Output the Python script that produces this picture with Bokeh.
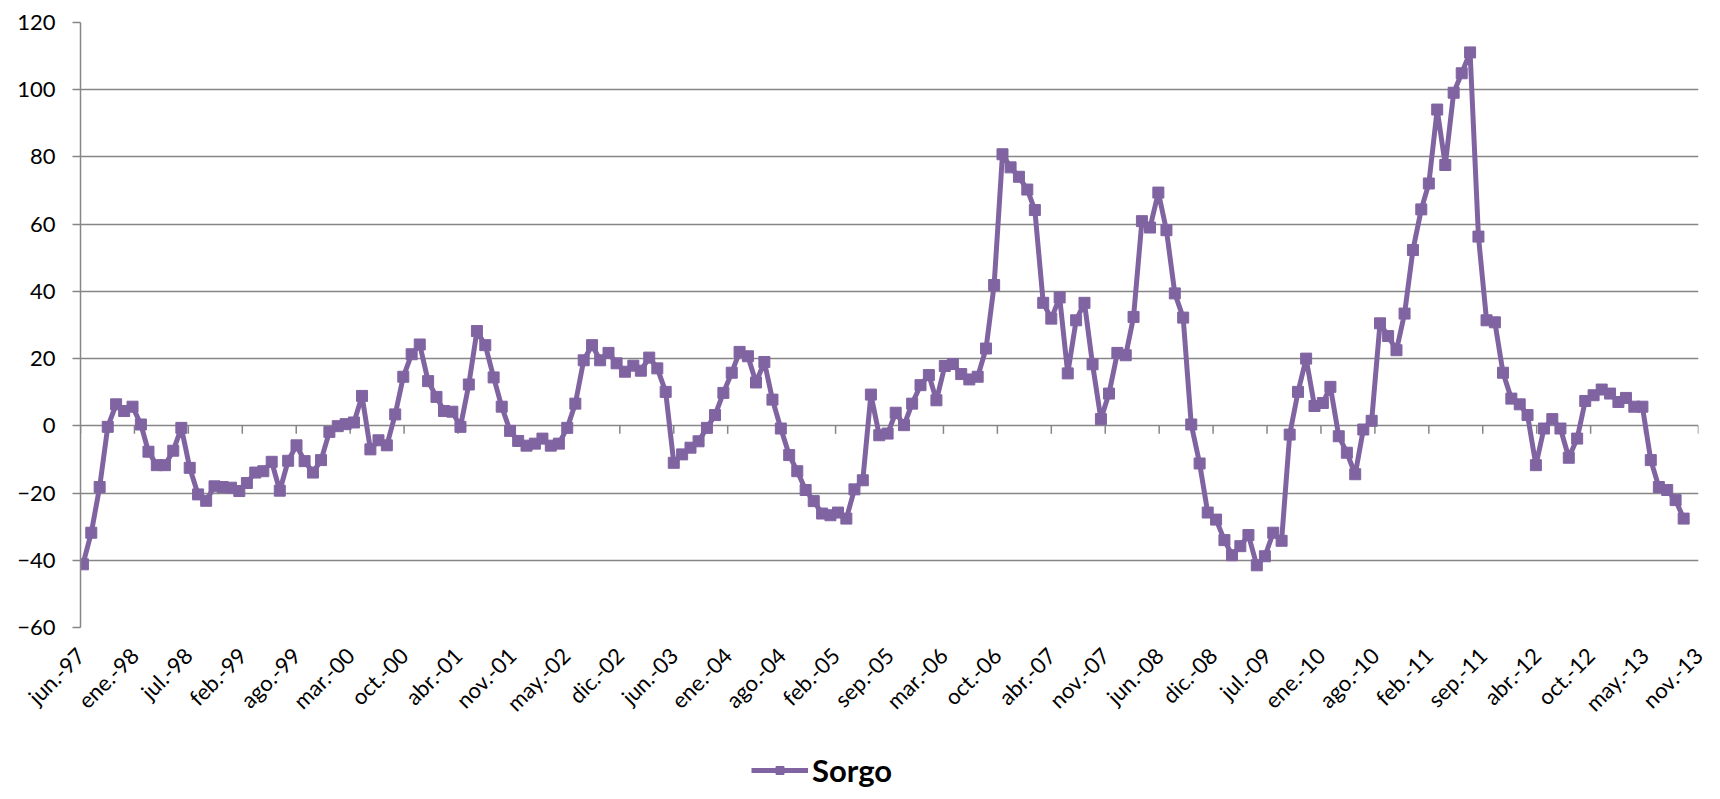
import numpy as np
import pandas as pd
from bokeh.plotting import figure
from bokeh.layouts import column
from bokeh.models import FixedTicker, Legend, LegendItem, Range1d
from bokeh.embed import file_html
from bokeh.resources import INLINE

# Monthly values, jun-97 .. sep-13
values = [
    -41.2, -31.8, -18.2, -0.3, 6.4, 4.4, 5.7, 0.4, -7.7, -11.7,
    -11.7, -7.4, -0.6, -12.5, -20.4, -22.3, -18.0, -18.2, -18.4, -19.4,
    -17.0, -13.9, -13.5, -10.7, -19.3, -10.4, -5.8, -10.5, -13.9, -10.2,
    -1.8, -0.1, 0.5, 1.0, 8.9, -7.0, -4.3, -5.8, 3.4, 14.6,
    21.3, 24.2, 13.3, 8.6, 4.4, 4.2, -0.3, 12.3, 28.2, 24.0,
    14.4, 5.7, -1.5, -4.5, -5.9, -5.3, -3.8, -5.9, -5.3, -0.6,
    6.6, 19.5, 24.0, 19.5, 21.7, 18.6, 16.1, 17.9, 16.4, 20.3,
    17.1, 10.1, -11.0, -8.5, -6.5, -4.6, -0.6, 3.2, 9.8, 15.8,
    22.0, 20.7, 12.9, 19.0, 7.8, -0.8, -8.7, -13.5, -19.1, -22.4,
    -26.1, -26.6, -25.8, -27.6, -18.9, -16.2, 9.3, -2.8, -2.3, 3.9,
    0.2, 6.6, 12.1, 15.1, 7.6, 17.8, 18.4, 15.4, 13.8, 14.6,
    23.0, 41.9, 80.8, 76.9, 74.1, 70.3, 64.2, 36.6, 31.9, 38.2,
    15.6, 31.4, 36.6, 18.3, 2.0, 9.6, 21.7, 21.0, 32.4, 60.9,
    59.0, 69.4, 58.2, 39.4, 32.2, 0.4, -11.2, -25.8, -27.9, -34.0,
    -38.5, -35.8, -32.5, -41.5, -38.8, -31.8, -34.2, -2.6, 10.1, 20.0,
    5.9, 6.8, 11.6, -3.1, -8.0, -14.4, -1.1, 1.5, 30.5, 26.7,
    22.5, 33.4, 52.3, 64.4, 72.1, 94.1, 77.6, 99.1, 104.9, 111.1,
    56.3, 31.4, 30.8, 15.8, 8.1, 6.4, 3.2, -11.7, -0.8, 2.0,
    -0.8, -9.5, -3.8, 7.4, 9.1, 10.8, 9.6, 7.1, 8.3, 5.7,
    5.7, -10.2, -18.2, -19.1, -22.1, -27.6,
]

tick_labels = [
    "jun.-97", "ene.-98", "jul.-98", "feb.-99", "ago.-99", "mar.-00",
    "oct.-00", "abr.-01", "nov.-01", "may.-02", "dic.-02", "jun.-03",
    "ene.-04", "ago.-04", "feb.-05", "sep.-05", "mar.-06", "oct.-06",
    "abr.-07", "nov.-07", "jun.-08", "dic.-08", "jul.-09", "ene.-10",
    "ago.-10", "feb.-11", "sep.-11", "abr.-12", "oct.-12", "may.-13",
    "nov.-13",
]
y_ticks = [-60, -40, -20, 0, 20, 40, 60, 80, 100, 120]
series_name = "Sorgo"

axis_start = pd.Timestamp("1997-06-21")
dates = pd.date_range("1997-06-30", periods=len(values), freq="ME")
x = np.asarray((dates - axis_start).days, dtype=float)
tick_step = 200
x_ticks = [i * tick_step for i in range(len(tick_labels))]

GRID = "#868686"
PURPLE = "#8064A2"
FONT = "Lato"

p = figure(
    width=1720, height=730,
    output_backend="svg", toolbar_location=None,
    x_range=Range1d(0, x_ticks[-1]), y_range=Range1d(y_ticks[0], y_ticks[-1]),
    min_border_left=80, min_border_right=22, min_border_top=22, min_border_bottom=103,
)
p.outline_line_color = None
p.background_fill_color = "white"

# x axis (labels only, at bottom)
p.xaxis.ticker = FixedTicker(ticks=x_ticks)
p.xaxis.major_label_overrides = {t: l for t, l in zip(x_ticks, tick_labels)}
p.xaxis.major_label_orientation = np.pi / 4
p.xaxis.axis_line_color = None
p.xaxis.major_tick_line_color = None
p.xaxis.minor_tick_line_color = None
p.xaxis.major_tick_out = 0
p.xaxis.major_tick_in = 0
p.xaxis.major_label_standoff = 24
p.xaxis.major_label_text_font = FONT
p.xaxis.major_label_text_font_size = "22px"
p.xaxis.major_label_text_color = "black"
p.xgrid.grid_line_color = None

# y axis
p.yaxis.ticker = FixedTicker(ticks=y_ticks)
p.yaxis.axis_line_color = GRID
p.yaxis.axis_line_width = 1.5
p.yaxis.major_tick_line_color = GRID
p.yaxis.major_tick_line_width = 1.5
p.yaxis.major_tick_out = 8
p.yaxis.major_tick_in = 0
p.yaxis.minor_tick_line_color = None
p.yaxis.major_label_standoff = 17
p.yaxis.major_label_text_font = FONT
p.yaxis.major_label_text_font_size = "22px"
p.yaxis.major_label_text_color = "black"
p.ygrid.ticker = FixedTicker(ticks=y_ticks)
p.ygrid.grid_line_color = GRID
p.ygrid.grid_line_width = 1.5

# category-axis tick marks hanging from the zero line
tick_len = 8 * (y_ticks[-1] - y_ticks[0]) / 605.0
p.segment(x0=x_ticks, y0=[0] * len(x_ticks), x1=x_ticks, y1=[-tick_len] * len(x_ticks),
          line_color=GRID, line_width=1.5)

p.line(x, values, line_color=PURPLE, line_width=5)
p.scatter(x, values, marker="square", size=11, fill_color=PURPLE, line_color=PURPLE)

# legend strip below the chart (series drawn out of view, only the legend shows)
leg = figure(
    width=1720, height=69, output_backend="svg", toolbar_location=None,
    x_axis_type=None, y_axis_type=None,
    x_range=Range1d(-2, -1), y_range=Range1d(-2, -1),
    min_border_left=0, min_border_right=0, min_border_top=0, min_border_bottom=0,
)
leg.grid.grid_line_color = None
leg.outline_line_color = None
lr_line = leg.line(x, values, line_color=PURPLE, line_width=5)
lr_pts = leg.scatter(x, values, marker="square", size=12, fill_color=PURPLE, line_color=PURPLE)

legend = Legend(
    items=[LegendItem(label=series_name, renderers=[lr_line, lr_pts])],
    location=(671, 10), orientation="horizontal",
    border_line_color=None, background_fill_alpha=0,
    label_text_font=FONT, label_text_font_style="bold", label_text_font_size="31px",
    label_text_color="black",
    glyph_width=57, glyph_height=20, padding=0, margin=0, label_standoff=4, spacing=0,
)
leg.add_layout(legend)

open("out.html", "w").write(file_html(column(p, leg, spacing=0), INLINE))
